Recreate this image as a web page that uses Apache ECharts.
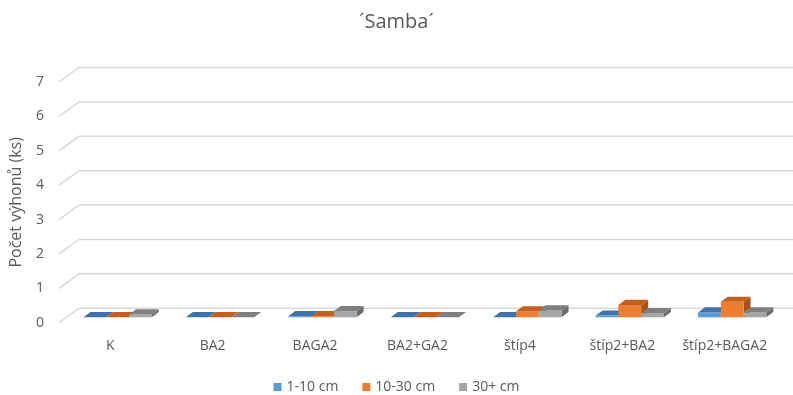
<!DOCTYPE html>
<html>
<head>
<meta charset="utf-8">
<script src="https://cdn.jsdelivr.net/npm/echarts@6/dist/echarts.min.js"></script>
<style>
  html, body { margin: 0; padding: 0; background: #ffffff; }
  #chart { width: 793px; height: 395px; }
</style>
</head>
<body>
<div id="chart"></div>
<script>
// Categories (treatments) and shoot counts per length class
const categories = ['K', 'BA2', 'BAGA2', 'BA2+GA2', 'štíp4', 'štíp2+BA2', 'štíp2+BAGA2'];
const seriesNames = ['1-10 cm', '10-30 cm', '30+ cm'];
const shoots1to10 = [0, 0, 0.03, 0, 0, 0.05, 0.14];
const shoots10to30 = [0, 0, 0.03, 0, 0.17, 0.36, 0.45];
const shoots30plus = [0.08, 0, 0.18, 0, 0.2, 0.12, 0.14];
const yTicks = [0, 1, 2, 3, 4, 5, 6, 7];

const FONT = '"Open Sans", "Noto Sans", sans-serif';
const TEXT = '#595959';

// oblique projection of the floor depth (front plane -> back wall)
const FLOOR_DX = 20, FLOOR_DY = -14.5;
// bar placement inside the depth
const FRONT_DX = 7.4, FRONT_DY = -5.4;
const BAR_DX = 7, BAR_DY = -5.2;

// face colours: front, top, side
const palettes = [
  { front: '#5b9bd5', top: '#3f72a8', side: '#36648f' },
  { front: '#ed7d31', top: '#c2601f', side: '#a9531b' },
  { front: '#a5a5a5', top: '#7f7f7f', side: '#6c6c6c' }
];

function barRenderer(idx) {
  const pal = palettes[idx];
  return function (params, api) {
    const cat = api.value(0);
    const val = api.value(1);
    const base = api.coord([cat, 0]);
    const top = api.coord([cat, val]);
    const band = api.size([1, 0])[0];
    const bw = band / 4.5; // gap width 150%
    const x0 = base[0] - 1.5 * bw + idx * bw + FRONT_DX;
    const x1 = x0 + bw;
    const yb = base[1] + FRONT_DY;
    const yt = top[1] + FRONT_DY;
    return {
      type: 'group',
      children: [
        {
          type: 'polygon',
          shape: { points: [[x1, yb], [x1 + BAR_DX, yb + BAR_DY], [x1 + BAR_DX, yt + BAR_DY], [x1, yt]] },
          style: { fill: pal.side }
        },
        {
          type: 'rect',
          shape: { x: x0, y: yt, width: bw, height: Math.max(yb - yt, 0) },
          style: { fill: pal.front }
        },
        {
          type: 'polygon',
          shape: { points: [[x0, yt], [x0 + BAR_DX, yt + BAR_DY], [x1 + BAR_DX, yt + BAR_DY], [x1, yt]] },
          style: { fill: pal.top }
        }
      ]
    };
  };
}

function wallRenderer(params, api) {
  const cs = params.coordSys;
  const y = api.coord([0, api.value(1)])[1];
  return {
    type: 'polyline',
    shape: {
      points: [
        [cs.x, y],
        [cs.x + FLOOR_DX, y + FLOOR_DY],
        [cs.x + cs.width + FLOOR_DX, y + FLOOR_DY]
      ]
    },
    style: { stroke: '#d9d9d9', lineWidth: 1.5, fill: null }
  };
}

const seriesData = [shoots1to10, shoots10to30, shoots30plus];

const chart = echarts.init(document.getElementById('chart'), null, { renderer: 'canvas' });
chart.setOption({
  animation: false,
  backgroundColor: '#ffffff',
  title: {
    text: '´Samba´',
    left: 'center',
    top: 7,
    textStyle: { fontFamily: FONT, fontSize: 20, fontWeight: 'normal', color: TEXT }
  },
  legend: {
    top: 375,
    left: 'center',
    icon: 'rect',
    itemWidth: 8,
    itemHeight: 8,
    itemGap: 24,
    data: seriesNames,
    textStyle: { fontFamily: FONT, fontSize: 14, color: TEXT }
  },
  grid: { left: 59, right: 17, top: 82, bottom: 72.3 },
  xAxis: {
    type: 'category',
    data: categories,
    axisLine: { show: false },
    axisTick: { show: false },
    axisLabel: { fontFamily: FONT, fontSize: 14, color: TEXT, margin: 16, interval: 0 }
  },
  yAxis: {
    type: 'value',
    min: 0,
    max: 7,
    interval: 1,
    name: 'Počet výhonů (ks)',
    nameLocation: 'middle',
    nameGap: 35,
    nameTextStyle: { fontFamily: FONT, fontSize: 16, color: TEXT },
    axisLine: { show: false },
    axisTick: { show: false },
    splitLine: { show: false },
    axisLabel: { fontFamily: FONT, fontSize: 14, color: TEXT, margin: 15 }
  },
  series: [
    {
      type: 'custom',
      name: 'wall',
      silent: true,
      z: 1,
      renderItem: wallRenderer,
      data: yTicks.map(function (v) { return [0, v]; })
    }
  ].concat(seriesNames.map(function (name, i) {
    return {
      type: 'custom',
      name: name,
      z: 2 + i,
      itemStyle: { color: palettes[i].front },
      renderItem: barRenderer(i),
      data: seriesData[i].map(function (v, c) { return [c, v]; })
    };
  }))
});
</script>
</body>
</html>
